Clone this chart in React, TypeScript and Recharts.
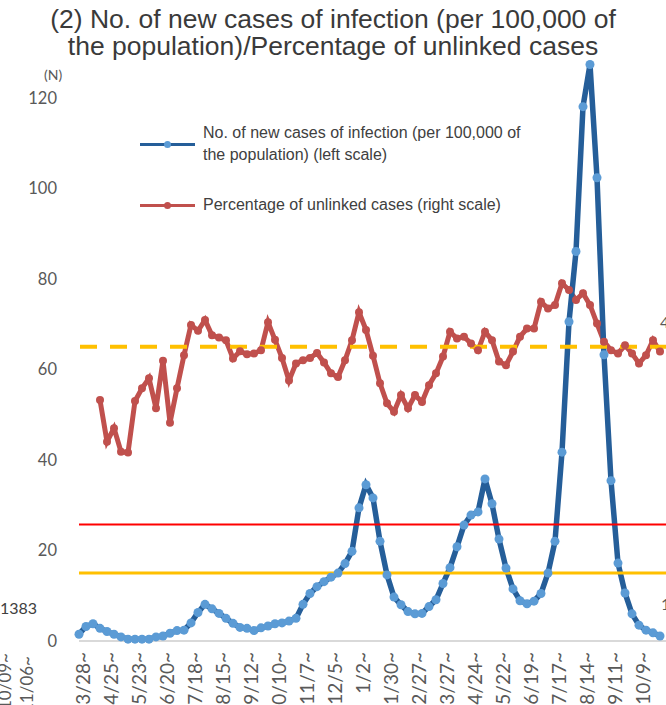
import { LineChart, Line, XAxis, YAxis, ReferenceLine } from 'recharts'

// weekly data, first week starting 3/28
const TICK_WEEKS = [0, 4, 8, 12, 16, 20, 24, 28, 32, 36, 40, 44, 48, 52, 56, 60, 64, 68, 72, 76, 80]
const TICK_LABELS = [
  '3/28', '4/25', '5/23', '6/20', '7/18', '8/15', '9/12', '10/10', '11/7', '12/5', '1/2',
  '1/30', '2/27', '3/27', '4/24', '5/22', '6/19', '7/17', '8/14', '9/11', '10/9',
]
const Y_TICKS = [0, 20, 40, 60, 80, 100, 120]

// No. of new cases of infection (per 100,000 of the population)
const CASES = [
  1.5, 3.2, 3.8, 2.8, 2.1, 1.5, 0.9, 0.4, 0.4, 0.4, 0.4, 0.9, 1.1, 1.7, 2.3, 2.4, 4.0, 6.3, 8.1, 7.1,
  6.1, 5.0, 3.9, 3.0, 2.8, 2.3, 2.9, 3.3, 3.8, 4.0, 4.4, 5.0, 8.1, 10.5, 12.0, 13.1, 14.1, 15.0, 17.1, 19.8,
  29.4, 34.5, 31.6, 22.0, 14.6, 9.7, 8.0, 6.5, 6.0, 6.1, 7.6, 9.1, 12.7, 16.2, 20.8, 25.6, 27.8, 28.5, 35.8, 30.3,
  22.5, 16.1, 11.5, 8.9, 8.2, 8.8, 10.5, 15.0, 22.0, 41.7, 70.5, 86.0, 118.0, 127.3, 102.3, 63.2, 35.4, 17.2, 10.6, 6.0,
  3.5, 2.4, 1.8, 1.1,
]

// Percentage of unlinked cases
const UNLINKED = [
  null, null, null, 53.2, 44.0, 47.0, 41.8, 41.6, 53.0, 55.8, 58.0, 51.4, 61.9, 48.2, 55.8, 63.1, 69.8, 68.5, 70.9, 67.5,
  67.0, 66.4, 62.4, 64.0, 63.3, 63.5, 64.2, 70.4, 66.5, 62.5, 57.5, 61.3, 62.0, 62.5, 63.6, 61.5, 59.1, 58.3, 62.0, 66.4,
  72.6, 68.7, 63.0, 56.9, 52.5, 50.6, 54.3, 51.4, 54.3, 52.8, 56.5, 59.1, 62.8, 68.3, 66.8, 67.2, 65.7, 64.2, 68.3, 66.4,
  61.7, 60.9, 63.9, 67.2, 69.0, 69.0, 74.9, 73.4, 74.2, 79.0, 77.5, 75.3, 76.8, 74.2, 70.1, 66.1, 64.2, 63.5, 65.3, 63.5,
  61.3, 63.1, 66.4, 63.9,
]

const UNLINKED_TARGET = 65
const RED_LEVEL = 25.7
const YELLOW_LEVEL = 15

const data = CASES.map((v, i) => ({ week: i, cases: v, unlinked: UNLINKED[i] }))

const TICK_FONT = 'Lato, "Open Sans", sans-serif'
const TEXT_FONT = '"Liberation Sans", Arial, sans-serif'

function WeekTick({ x, y, payload }: any) {
  const label = TICK_LABELS[TICK_WEEKS.indexOf(payload.value)]
  const cx = x + 3
  const top = y + 3
  return (
    <text
      x={cx}
      y={top}
      transform={`rotate(-90 ${cx} ${top})`}
      textAnchor="end"
      dominantBaseline="central"
      fill="#595959"
      fontSize={19}
      fontFamily={TICK_FONT}
    >
      {label}~
    </text>
  )
}

function ValueTick({ y, payload }: any) {
  return (
    <text x={57} y={y} textAnchor="end" dominantBaseline="central" fill="#595959" fontSize={16.5} fontFamily={TICK_FONT}>
      {payload.value}
    </text>
  )
}

function LegendRow({ top, color, dot, lines }: { top: number; color: string; dot: string; lines: string[] }) {
  return (
    <div style={{ position: 'absolute', left: 140, top, display: 'flex', alignItems: 'center' }}>
      <div style={{ position: 'relative', width: 55, height: 3, background: color, marginRight: 8 }}>
        <div style={{ position: 'absolute', left: 24, top: -2, width: 7, height: 7, borderRadius: '50%', background: dot }} />
      </div>
      <div style={{ fontFamily: TEXT_FONT, fontSize: 16, lineHeight: '22px', color: '#404040' }}>
        {lines.map(l => <div key={l}>{l}</div>)}
      </div>
    </div>
  )
}

export default function App() {
  return (
    <div style={{ position: 'absolute', left: 0, top: 0, width: 666, height: 705, overflow: 'hidden', background: '#fff' }}>
      <LineChart width={667} height={711} data={data} margin={{ top: 7, right: 0, bottom: 0, left: 0 }}>
        <XAxis
          type="number"
          dataKey="week"
          domain={[0, 84]}
          ticks={TICK_WEEKS}
          tickLine={false}
          axisLine={{ stroke: '#d9d9d9', strokeWidth: 2 }}
          height={70}
          tick={<WeekTick />}
          interval={0}
        />
        <YAxis
          yAxisId="left"
          domain={[0, 140]}
          ticks={Y_TICKS}
          width={79}
          axisLine={false}
          tickLine={false}
          tick={<ValueTick />}
          interval={0}
        />
        <YAxis yAxisId="right" orientation="right" domain={[0, 140]} hide />
        <Line
          yAxisId="right"
          dataKey="unlinked"
          stroke="#c0504d"
          strokeWidth={5}
          dot={{ r: 4, fill: '#c0504d', stroke: 'none' }}
          isAnimationActive={false}
        />
        <Line
          yAxisId="left"
          dataKey="cases"
          stroke="#255e99"
          strokeWidth={5.5}
          dot={{ r: 4.5, fill: '#5b9bd5', stroke: 'none' }}
          isAnimationActive={false}
        />
        <ReferenceLine yAxisId="right" y={UNLINKED_TARGET} stroke="#ffc000" strokeWidth={4} strokeDasharray="17 13" />
        <ReferenceLine yAxisId="left" y={RED_LEVEL} stroke="#ff0000" strokeWidth={2} />
        <ReferenceLine yAxisId="left" y={YELLOW_LEVEL} stroke="#ffc000" strokeWidth={3} />
      </LineChart>

      <div style={{ position: 'absolute', left: 0, top: 6, width: 666, textAlign: 'center', fontFamily: TEXT_FONT, fontSize: 26.5, lineHeight: '27px', color: '#3a3a3a' }}>
        <div>(2) No. of new cases of infection (per 100,000 of</div>
        <div>the population)/Percentage of unlinked cases</div>
      </div>

      <div style={{ position: 'absolute', left: 44, top: 66, fontFamily: TICK_FONT, fontSize: 14, color: '#595959' }}>(N)</div>

      <LegendRow top={122} color="#255e99" dot="#5b9bd5" lines={['No. of new cases of infection (per 100,000 of', 'the population) (left scale)']} />
      <LegendRow top={194} color="#c0504d" dot="#c0504d" lines={['Percentage of unlinked cases (right scale)']} />

      {/* fragments of the neighbouring charts at the crop edges */}
      <div style={{ position: 'absolute', left: 0, top: 598, fontFamily: TICK_FONT, fontSize: 16, color: '#404040' }}>1383</div>
      <svg style={{ position: 'absolute', left: 0, top: 640 }} width={40} height={65}>
        <text x={4} y={13} transform="rotate(-90 4 13)" textAnchor="end" dominantBaseline="central" fill="#595959" fontSize={17} fontFamily={TICK_FONT}>10/09~</text>
        <text x={26} y={16} transform="rotate(-90 26 16)" textAnchor="end" dominantBaseline="central" fill="#595959" fontSize={17} fontFamily={TICK_FONT}>11/06~</text>
      </svg>
      <div style={{ position: 'absolute', left: 660, top: 312, fontFamily: TICK_FONT, fontSize: 16, color: '#595959' }}>4</div>
      <div style={{ position: 'absolute', left: 661, top: 594, fontFamily: TICK_FONT, fontSize: 16, color: '#595959' }}>1</div>
    </div>
  )
}
